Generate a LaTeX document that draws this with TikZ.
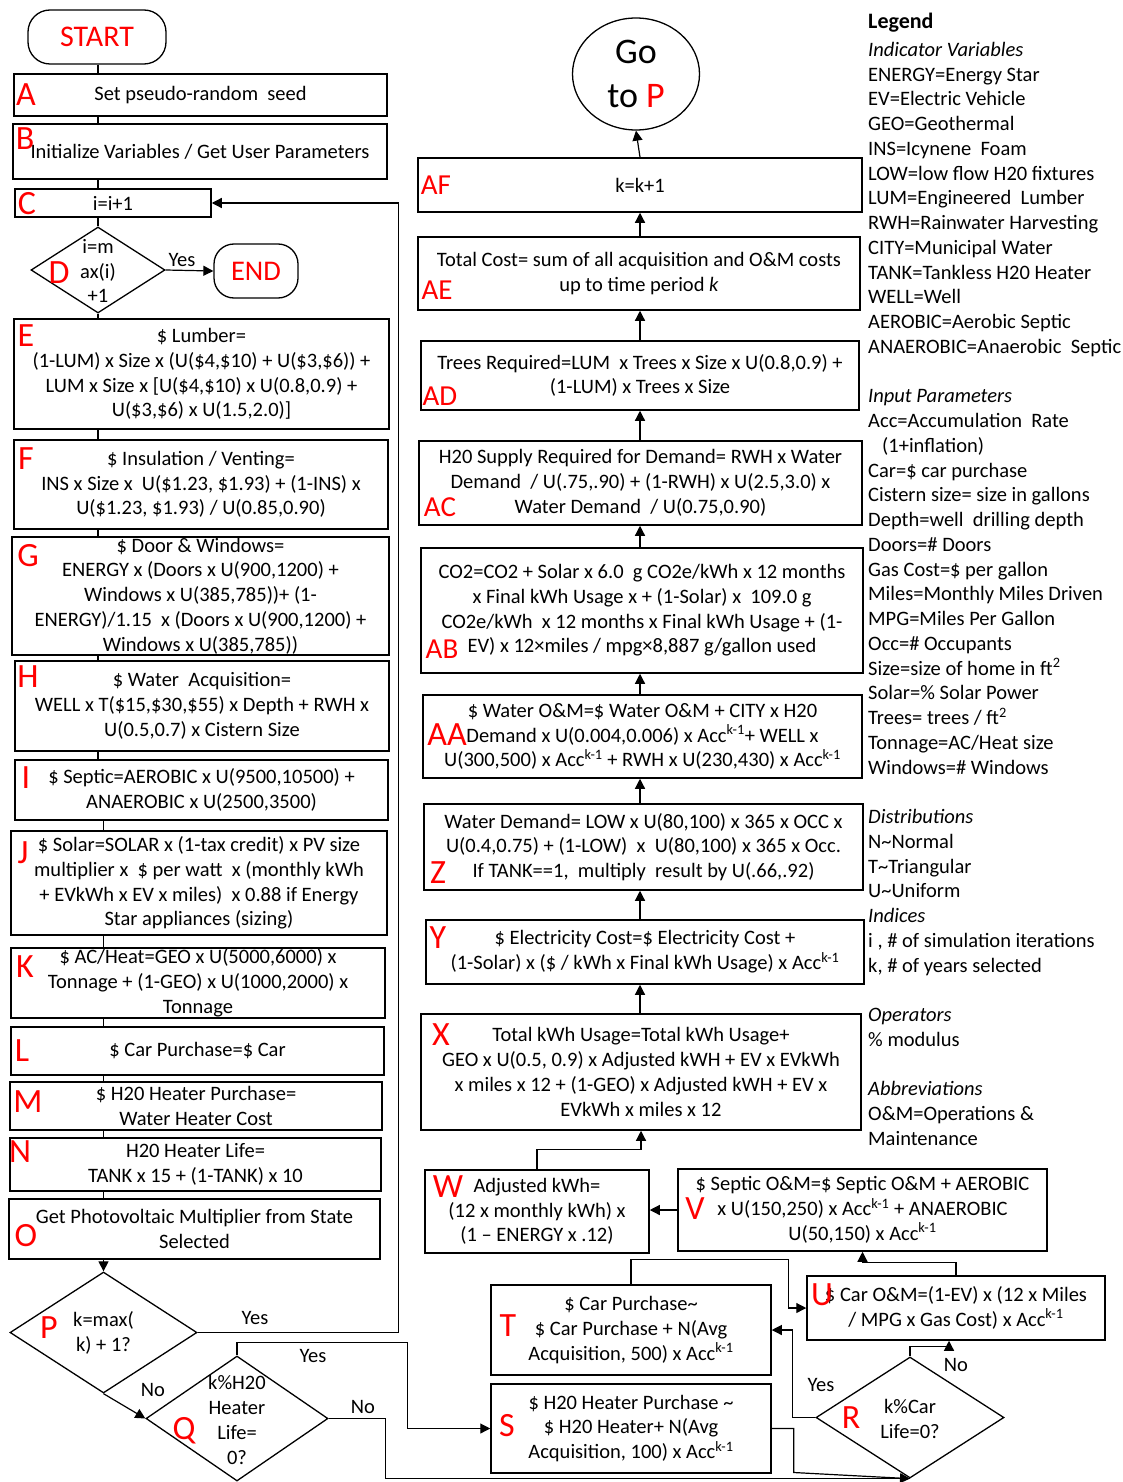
\documentclass[tikz,border=0pt]{standalone}
\usepackage{fontspec}
\setmainfont{Carlito}
\usetikzlibrary{positioning,shapes.geometric,arrows.meta}

\begin{document}
\begin{tikzpicture}[x=1pt, y=-1pt,
			sz/.style 2 args={minimum width=#1pt, minimum height=#2pt},
			box/.style={draw=black, line width=1.5pt, inner sep=0pt, align=center, font=\fontsize{20.5}{24.75}\selectfont},
			decision/.style={diamond, draw=black, line width=1.3pt, inner sep=0pt},
			terminal/.style={draw=black, line width=1.3pt, rounded corners=22pt, text=red, inner sep=0pt, font=\fontsize{30}{30}\selectfont},
			txt/.style={inner sep=0pt, align=center, font=\fontsize{20.5}{24.75}\selectfont},
			tag/.style={inner sep=0pt, text depth=0pt, text=red, font=\fontsize{34}{34}\selectfont},
			tagsm/.style={tag, font=\fontsize{29}{29}\selectfont},
			line/.style={line width=1.2pt},
			arr/.style={line width=1.2pt, -{Triangle[length=10pt,width=10pt]}},
		]
		\useasboundingbox (0,0) rectangle (1123,1482);
		
			%Nodes, left column
			\node[terminal, sz={138}{54}]	(START)	at (97,37)		{START};
			\node[box, sz={373}{42}]	(A)	at (200.5,95)	{Set pseudo-random\ \ seed};
			\node[box, sz={374}{55}]	(B)	at (200,151.5)	{Initialize Variables / Get User Parameters};
			\node[box, sz={196}{28}]	(C)	at (113,203)	{i=i+1};
			\node[decision, sz={134}{86}]	(D)	at (98,270)	{};
			\node[txt]	(Dtxt)	at (98,271)	{i=m\\ax(i)\\+1};
			\node[terminal, rounded corners=20pt, sz={84}{54}, font=\fontsize{28.5}{28.5}\selectfont]	(END)	at (256,271)	{END};
			\node[box, sz={375}{110}]	(E)	at (201.5,374)	{\$ Lumber=\\(1-LUM) x Size x (U(\$4,\$10) + U(\$3,\$6)) +\\LUM x Size x [U(\$4,\$10) x U(0.8,0.9) +\\U(\$3,\$6) x U(1.5,2.0)]};
			\node[box, sz={374}{89}]	(F)	at (201,484.5)	{\$ Insulation / Venting=\\INS x Size x\ \ U(\$1.23, \$1.93) + (1-INS) x\\U(\$1.23, \$1.93) / U(0.85,0.90)};
			\node[box, sz={377}{118}]	(G)	at (200.5,596)	{\$ Door \& Windows=\\ENERGY x (Doors x U(900,1200) +\\Windows x U(385,785))+ (1-\\ENERGY)/1.15\ \ x (Doors x U(900,1200) +\\Windows x U(385,785))};
			\node[box, sz={374}{90}]	(H)	at (202,706)	{\$ Water\ \ Acquisition=\\WELL x T(\$15,\$30,\$55) x Depth + RWH x\\U(0.5,0.7) x Cistern Size};
			\node[box, sz={373}{60}]	(I)	at (201.5,790)	{\$ Septic=AEROBIC x U(9500,10500) +\\ANAEROBIC x U(2500,3500)};
			\node[box, sz={376}{104}]	(J)	at (199,883)	{\$ Solar=SOLAR x (1-tax credit) x PV size\\multiplier x\ \ \$ per watt\ \ x (monthly kWh\\+ EVkWh x EV x miles)\ \ x 0.88 if Energy\\Star appliances (sizing)};
			\node[box, sz={374}{70}]	(K)	at (198,983)	{\$ AC/Heat=GEO x U(5000,6000) x\\Tonnage + (1-GEO) x U(1000,2000) x\\Tonnage};
			\node[box, sz={373}{48}]	(L)	at (197.5,1051)	{\$ Car Purchase=\$ Car};
			\node[box, sz={372}{48}]	(M)	at (196,1106)	{\$ H20 Heater Purchase=\\Water Heater Cost};
			\node[box, sz={371}{53}]	(N)	at (195.5,1164.5)	{H20 Heater Life=\\TANK x 15 + (1-TANK) x 10};
			\node[box, sz={371}{60}]	(O)	at (194.5,1229)	{Get Photovoltaic Multiplier from State\\Selected};
			\node[decision, sz={187}{121}]	(P)	at (103.5,1332.5)	{};
			\node[txt]	(Ptxt)	at (103.5,1333)	{k=max(\\k) + 1?};
			\node[decision, sz={182}{125}]	(Q)	at (237,1418.5)	{};
			\node[txt]	(Qtxt)	at (237,1420)	{k\%H20\\Heater\\Life=\\0?};
		
			%Nodes, right column
			\node[ellipse, draw=black, line width=1.3pt, sz={127}{112}, inner sep=0pt, align=center, font=\fontsize{36}{44}\selectfont]	(GoP)	at (636,74)	{Go\\to \textcolor{red}{P}};
			\node[box, sz={444}{54}]	(AF)	at (640,185)	{k=k+1};
			\node[box, sz={442}{73}]	(AE)	at (639,273.5)	{Total Cost= sum of all acquisition and O\&M costs\\up to time period \textit{k}};
			\node[box, sz={438}{69}]	(AD)	at (640,375.5)	{Trees Required=LUM\ \ x Trees x Size x U(0.8,0.9) +\\(1-LUM) x Trees x Size};
			\node[box, sz={443}{84}]	(AC)	at (640.5,483)	{H20 Supply Required for Demand= RWH x Water\\Demand\ \ / U(.75,.90) + (1-RWH) x U(2.5,3.0) x\\Water Demand\ \ / U(0.75,0.90)};
			\node[box, sz={442}{125}]	(AB)	at (642,610.5)	{CO2=CO2 + Solar x 6.0\ \ g CO2e/kWh x 12 months\\x Final kWh Usage x + (1-Solar) x\ \ 109.0 g\\CO2e/kWh\ \ x 12 months x Final kWh Usage + (1-\\EV) x 12×miles / mpg×8,887 g/gallon used};
			\node[box, sz={439}{83}]	(AA)	at (642.5,736.5)	{\$ Water O\&M=\$ Water O\&M + CITY x H20\\Demand x U(0.004,0.006) x Acc\textsuperscript{k-1}+ WELL x\\U(300,500) x Acc\textsuperscript{k-1} + RWH x U(230,430) x Acc\textsuperscript{k-1}};
			\node[box, sz={439}{86}]	(Z)	at (643.5,847)	{Water Demand= LOW x U(80,100) x 365 x OCC x\\U(0.4,0.75) + (1-LOW)\ \ x\ \ U(80,100) x 365 x Occ.\\If TANK==1,\ \ multiply\ \ result by U(.66,.92)};
			\node[box, sz={438}{64}]	(Y)	at (645,952)	{\$ Electricity Cost=\$ Electricity Cost +\\(1-Solar) x (\$ / kWh x Final kWh Usage) x Acc\textsuperscript{k-1}};
			\node[box, sz={440}{116}]	(X)	at (641,1072)	{Total kWh Usage=Total kWh Usage+\\GEO x U(0.5, 0.9) x Adjusted kWH + EV x EVkWh\\x miles x 12 + (1-GEO) x Adjusted kWH + EV x\\EVkWh x miles x 12};
			\node[box, sz={224}{83}]	(W)	at (537,1211.5)	{Adjusted kWh=\\(12 x monthly kWh) x\\(1 – ENERGY x .12)};
			\node[box, sz={369}{82}]	(V)	at (862.5,1210)	{\$ Septic O\&M=\$ Septic O\&M + AEROBIC\\x U(150,250) x Acc\textsuperscript{k-1} + ANAEROBIC\\U(50,150) x Acc\textsuperscript{k-1}};
			\node[box, sz={298}{64}]	(U)	at (956,1308)	{\$ Car O\&M=(1-EV) x (12 x Miles\\/ MPG x Gas Cost) x Acc\textsuperscript{k-1}};
			\node[box, sz={280}{90}]	(T)	at (631,1330)	{\$ Car Purchase\textasciitilde\\\$ Car Purchase + N(Avg\\Acquisition, 500) x Acc\textsuperscript{k-1}};
			\node[box, sz={280}{89}]	(S)	at (631,1428.5)	{\$ H20 Heater Purchase \textasciitilde\\\$ H20 Heater+ N(Avg\\Acquisition, 100) x Acc\textsuperscript{k-1}};
			\node[decision, sz={188}{121}]	(R)	at (910,1417.5)	{};
			\node[txt]	(Rtxt)	at (910,1419)	{k\%Car\\Life=0?};
		
			%Tags
			\node[tag]	(tA)	at (26,94.5)	{A};
			\node[tag]	(tB)	at (25,139)	{B};
			\node[tag]	(tC)	at (27,203)	{C};
			\node[tag]	(tD)	at (59,272.5)	{D};
			\node[tag]	(tE)	at (26,336)	{E};
			\node[tag]	(tF)	at (26,459)	{F};
			\node[tag]	(tG)	at (28,555)	{G};
			\node[tag]	(tH)	at (28,677)	{H};
			\node[tag]	(tI)	at (26,778)	{I};
			\node[tag]	(tJ)	at (23,853)	{J};
			\node[tag]	(tK)	at (25,967)	{K};
			\node[tag]	(tL)	at (22,1051)	{L};
			\node[tag]	(tM)	at (28,1102)	{M};
			\node[tag]	(tN)	at (20,1152)	{N};
			\node[tag]	(tO)	at (26,1235)	{O};
			\node[tag]	(tP)	at (49,1328)	{P};
			\node[tag]	(tQ)	at (184,1428)	{Q};
			\node[tagsm]	(tAF)	at (436,185)	{AF};
			\node[tagsm]	(tAE)	at (437,290)	{AE};
			\node[tagsm]	(tAD)	at (440,396)	{AD};
			\node[tagsm]	(tAC)	at (440,507)	{AC};
			\node[tagsm]	(tAB)	at (442,649)	{AB};
			\node[tag]	(tAA)	at (447,735)	{AA};
			\node[tag]	(tZ)	at (438,873)	{Z};
			\node[tag]	(tY)	at (438,938)	{Y};
			\node[tag]	(tX)	at (441,1035)	{X};
			\node[tag]	(tW)	at (448,1187)	{W};
			\node[tag]	(tV)	at (695,1209)	{V};
			\node[tag]	(tU)	at (822,1295)	{U};
			\node[tag]	(tT)	at (508,1326)	{T};
			\node[tag]	(tS)	at (507,1425)	{S};
			\node[tag]	(tR)	at (851,1418)	{R};
		
			%Branch labels
			\node[txt]	(yesD)	at (182,260)	{Yes};
			\node[txt]	(yesP)	at (255,1318)	{Yes};
			\node[txt]	(noP)	at (153,1390)	{No};
			\node[txt]	(yesQ)	at (313,1356)	{Yes};
			\node[txt]	(noQ)	at (363,1407)	{No};
			\node[txt]	(yesR)	at (821,1385)	{Yes};
			\node[txt]	(noR)	at (956,1365)	{No};
		
			%Legend
			\node[anchor=west, inner sep=0pt, font=\bfseries\fontsize{22}{22}\selectfont]	(legtitle)	at (868,23)	{Legend};
			\node[anchor=north west, inner sep=0pt, align=left, font=\fontsize{20.5}{24.75}\selectfont]	(legbody)	at (868,42)	{\textit{Indicator Variables}\\ENERGY=Energy Star\\EV=Electric Vehicle\\GEO=Geothermal\\INS=Icynene\ \ Foam\\LOW=low flow H20 fixtures\\LUM=Engineered\ \ Lumber\\RWH=Rainwater Harvesting\\CITY=Municipal Water\\TANK=Tankless H20 Heater\\WELL=Well\\AEROBIC=Aerobic Septic\\ANAEROBIC=Anaerobic\ \ Septic\\[24.75pt]
				\textit{Input Parameters}\\Acc=Accumulation\ \ Rate\\\hspace*{14pt}(1+inflation)\\Car=\$ car purchase\\Cistern size= size in gallons\\Depth=well\ \ drilling depth\\Doors=\# Doors\\Gas Cost=\$ per gallon\\Miles=Monthly Miles Driven\\MPG=Miles Per Gallon\\Occ=\# Occupants\\Size=size of home in ft\textsuperscript{2}\\Solar=\% Solar Power\\Trees= trees / ft\textsuperscript{2}\\Tonnage=AC/Heat size\\Windows=\# Windows\\[24.75pt]
				\textit{Distributions}\\N\textasciitilde Normal\\T\textasciitilde Triangular\\U\textasciitilde Uniform\\\textit{Indices}\\i , \# of simulation iterations\\k, \# of years selected\\[24.75pt]
				\textit{Operators}\\\% modulus\\[24.75pt]
				\textit{Abbreviations}\\O\&M=Operations \&\\Maintenance};
		
			%Lines
			\foreach \p/\q in {START/A,A/B,B/C,C/D,D/E,E/F,F/G,G/H,H/I}
				\draw[line]	(\p.south -| D.center) -- (\q.north -| D.center);
			\foreach \p/\q in {I/J,J/K,K/L,L/M,M/N,N/O}
				\draw[line]	(\p.south -| P.center) -- (\q.north -| P.center);
			\draw[arr]	(O.south -| P.center) -- (P.north);
			\draw[arr]	(D.east) -- (END.west);
			\draw[arr]	(P.east) -- ++(201,0) |- (C.east);
			\draw[arr]	(P.south) -- (Q.west);
			\draw[arr]	(Q.north) -- ++(0,-13) -| ([xshift=-83pt]S.west) -- (S.west);
			\draw[line]	(Q.east) -- ++(57,0) |- (R.south);
			\draw[arr]	(S.east) -- ++(22,0) -- ++(0,44) -- (R.south);
			\draw[arr]	(R.west) -- ++(-23,0) |- (T.east);
			\draw[arr]	(R.north) -- ++(0,-10) -| ([xshift=-7pt]U.south);
			\draw[arr]	(T.north) -- ++(0,-25) -| ([xshift=-18pt]U.west) -- (U.west);
			\draw[arr]	(U.north) -- ++(0,-13) -| (V.south);
			\draw[arr]	(V.west) -- (V.west -| W.east);
			\draw[arr]	(W.north) -- ++(0,-20) -| (X.south);
			\foreach \p/\q in {X/Y,Y/Z,Z/AA,AA/AB,AB/AC,AC/AD,AD/AE,AE/AF}
				\draw[arr]	(\p.north -| AF.center) -- (\q.south -| AF.center);
			\draw[arr]	(AF.north) -- (GoP.south);
		
		\end{tikzpicture}
\end{document}
